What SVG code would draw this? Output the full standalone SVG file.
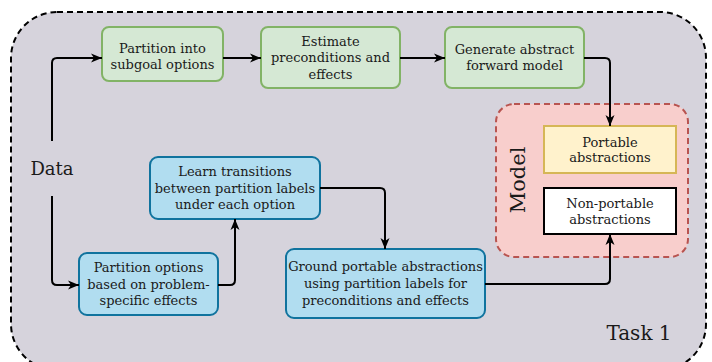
<svg xmlns="http://www.w3.org/2000/svg" width="712" height="362" viewBox="0 0 712 362">
<style>
text{font-family:"DejaVu Serif","Liberation Serif",serif;fill:#1a1a1a;}
.t{font-size:13px;text-anchor:middle;}
.g{fill:#d5e8d4;stroke:#82b366;stroke-width:2;}
.b{fill:#b1ddf0;stroke:#10739e;stroke-width:2;}
.c{fill:none;stroke:#000;stroke-width:2;marker-end:url(#ah);}
</style>
<defs>
<marker id="ah" markerUnits="userSpaceOnUse" markerWidth="12" markerHeight="10" refX="11" refY="5" orient="auto">
<path d="M0,0.5 L11,5 L0,9.5 L3,5 Z" fill="#000"/>
</marker>
</defs>
<g id="task">
<rect x="11" y="12" width="695" height="358" rx="46" fill="#d6d3dc" stroke="#000" stroke-width="2" stroke-dasharray="6,4"/>
<text x="639" y="340" font-size="20" text-anchor="middle">Task 1</text>
</g>
<g id="data"><text x="52" y="175" font-size="18" text-anchor="middle">Data</text></g>
<g id="model">
<rect x="496" y="104" width="192" height="153" rx="18" fill="#f8cecc" stroke="#b85450" stroke-width="2" stroke-dasharray="6,4"/>
<text transform="translate(525,180) rotate(-90)" font-size="21" text-anchor="middle">Model</text>
</g>
<g id="partition-subgoal">
<rect class="g" x="102" y="27" width="121" height="54" rx="7"/>
<text class="t" x="162.5" y="53">Partition into</text>
<text class="t" x="162.5" y="69">subgoal options</text>
</g>
<g id="estimate">
<rect class="g" x="261" y="27" width="139" height="61" rx="7"/>
<text class="t" x="330.5" y="45.5">Estimate</text>
<text class="t" x="330.5" y="62">preconditions and</text>
<text class="t" x="330.5" y="78.5">effects</text>
</g>
<g id="generate">
<rect class="g" x="445" y="27" width="139" height="61" rx="7"/>
<text class="t" x="514.5" y="53.5">Generate abstract</text>
<text class="t" x="514.5" y="69.5">forward model</text>
</g>
<g id="portable">
<rect x="544" y="126" width="132" height="47" fill="#fff2cc" stroke="#d6b656" stroke-width="2"/>
<text class="t" x="610" y="146.5">Portable</text>
<text class="t" x="610" y="162">abstractions</text>
</g>
<g id="nonportable">
<rect x="544" y="188" width="132" height="46" fill="#fff" stroke="#000" stroke-width="2"/>
<text class="t" x="610" y="207.5">Non-portable</text>
<text class="t" x="610" y="223.5">abstractions</text>
</g>
<g id="learn">
<rect class="b" x="150" y="157" width="170" height="62" rx="8"/>
<text class="t" x="235" y="175.5">Learn transitions</text>
<text class="t" x="235" y="192.5">between partition labels</text>
<text class="t" x="235" y="209">under each option</text>
</g>
<g id="partition-options">
<rect class="b" x="79" y="253" width="139" height="62" rx="8"/>
<text class="t" x="148.5" y="271.5">Partition options</text>
<text class="t" x="148.5" y="288.5">based on problem-</text>
<text class="t" x="148.5" y="305">specific effects</text>
</g>
<g id="ground">
<rect class="b" x="286" y="249" width="199" height="69" rx="8"/>
<text class="t" x="385.5" y="270.5">Ground portable abstractions</text>
<text class="t" x="385.5" y="287.5">using partition labels for</text>
<text class="t" x="385.5" y="304.5">preconditions and effects</text>
</g>
<g id="connectors">
<path class="c" d="M52,141 L52,63 Q52,58 57,58 L102,58"/>
<path class="c" d="M223,58 L261,58"/>
<path class="c" d="M400,58 L445,58"/>
<path class="c" d="M584,58 L605,58 Q610,58 610,63 L610,126"/>
<path class="c" d="M52,196 L52,280 Q52,285 57,285 L79,285"/>
<path class="c" d="M218,285 L230,285 Q235,285 235,280 L235,219"/>
<path class="c" d="M320,188 L380,188 Q385,188 385,193 L385,249"/>
<path class="c" d="M485,284 L605,284 Q610,284 610,279 L610,234"/>
</g>
</svg>
